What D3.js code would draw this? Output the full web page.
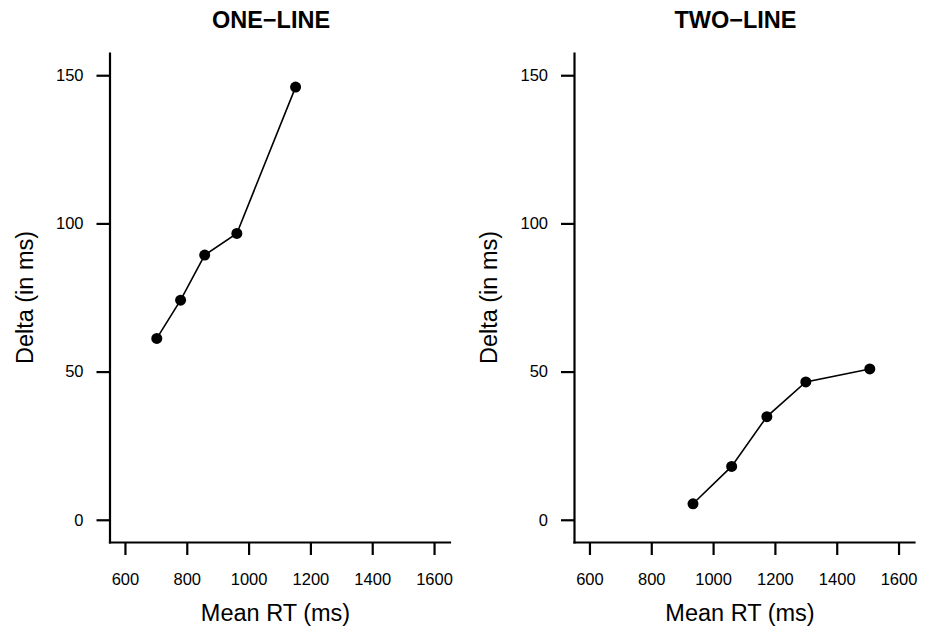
<!DOCTYPE html>
<html>
<head>
<meta charset="utf-8">
<script src="https://cdn.jsdelivr.net/npm/d3@7"></script>
<style>
  body { margin: 0; background: #fff; }
  text { font-family: "Liberation Sans", Arial, Helvetica, sans-serif; fill: #000; }
</style>
</head>
<body>
<div id="chart"></div>
<script>
// panel titles
const panelTitles = ["ONE\u2212LINE", "TWO\u2212LINE"];

// mean RT (x) and delta (y) per bin, one-line condition
const oneLineRT = [703, 780, 858, 962, 1152];
const oneLineDelta = [61.2, 74.1, 89.3, 96.6, 146.0];

// mean RT (x) and delta (y) per bin, two-line condition
const twoLineRT = [935, 1060, 1174, 1300, 1507];
const twoLineDelta = [5.4, 18.0, 34.8, 46.5, 50.9];

// axis ticks
const xTicks = [600, 800, 1000, 1200, 1400, 1600];
const yTicks = [0, 50, 100, 150];

const xLabel = "Mean RT (ms)";
const yLabel = "Delta (in ms)";

let w = 933,
    h = 629;

let panelW = 340,
    panelH = 489,
    plotTop = 53;

let panelLeft = [109.5, 574];

let svg = d3.select("#chart")
            .append("svg")
            .attr("width", w)
            .attr("height", h);

let series = [
  oneLineRT.map((d, i) => ({ rt: d, delta: oneLineDelta[i] })),
  twoLineRT.map((d, i) => ({ rt: d, delta: twoLineDelta[i] }))
];

series.forEach((data, p) => {
  let g = svg.append("g")
             .attr("transform", `translate(${panelLeft[p]}, ${plotTop})`);

  let x = d3.scaleLinear()
            .domain([550, 1650])
            .range([0, panelW]);

  let y = d3.scaleLinear()
            .domain([-7.5, 157.5])
            .range([panelH, 0]);

  // x axis (bottom of the L box)
  let xAxis = g.append("g")
               .attr("transform", `translate(0, ${panelH})`)
               .call(d3.axisBottom(x).tickValues(xTicks).tickFormat(d3.format("d")).tickSizeInner(13).tickSizeOuter(0).tickPadding(18));

  // y axis
  let yAxis = g.append("g")
               .call(d3.axisLeft(y).tickValues(yTicks).tickFormat(d3.format("d")).tickSizeInner(13).tickSizeOuter(0).tickPadding(13));

  [xAxis, yAxis].forEach(a => {
    a.select(".domain").attr("stroke-width", 2.2).attr("stroke-linecap", "square");
    a.selectAll(".tick line").attr("stroke-width", 2.2);
    a.selectAll(".tick text")
     .style("font-size", "16.5px")
     .style("font-family", "'Liberation Sans', Arial, sans-serif");
  });

  // connecting line
  let line = d3.line()
               .x(d => x(d.rt))
               .y(d => y(d.delta));

  g.append("path")
   .datum(data)
   .attr("d", line)
   .attr("fill", "none")
   .attr("stroke", "#000")
   .attr("stroke-width", 1.6);

  g.selectAll(".pt")
   .data(data)
   .enter()
   .append("circle")
   .attr("class", "pt")
   .attr("cx", d => x(d.rt))
   .attr("cy", d => y(d.delta))
   .attr("r", 5.5)
   .attr("fill", "#000");

  // panel title
  g.append("text")
   .attr("x", panelW / 2 - 8.5)
   .attr("y", 28 - plotTop)
   .attr("text-anchor", "middle")
   .style("font-size", "23.5px")
   .style("font-weight", "bold")
   .text(panelTitles[p]);

  // axis titles
  g.append("text")
   .attr("x", panelW / 2 - 4)
   .attr("y", 621 - plotTop)
   .attr("text-anchor", "middle")
   .style("font-size", "23.5px")
   .text(xLabel);

  g.append("text")
   .attr("transform", `translate(-77, ${panelH / 2}) rotate(-90)`)
   .attr("text-anchor", "middle")
   .style("font-size", "23.5px")
   .text(yLabel);
});
</script>
</body>
</html>
